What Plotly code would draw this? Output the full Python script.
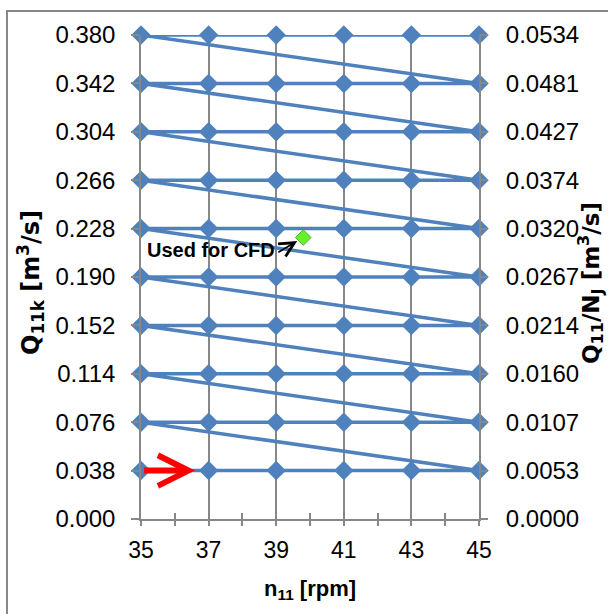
import plotly.graph_objects as go

# ---- data ----
n11_values = [35, 37, 39, 41, 43, 45]
q11_values = [0.038, 0.076, 0.114, 0.152, 0.190, 0.228, 0.266, 0.304, 0.342, 0.380]
left_tick_vals = [0.000, 0.038, 0.076, 0.114, 0.152, 0.190, 0.228, 0.266, 0.304, 0.342, 0.380]
left_tick_text = ["0.000", "0.038", "0.076", "0.114", "0.152", "0.190", "0.228", "0.266", "0.304", "0.342", "0.380"]
right_tick_text = ["0.0000", "0.0053", "0.0107", "0.0160", "0.0214", "0.0267", "0.0320", "0.0374", "0.0427", "0.0481", "0.0534"]
x_tick_vals = [35, 37, 39, 41, 43, 45]
cfd_n11 = [39.8]
cfd_q11 = [0.221]

# zigzag path through the grid: each row left->right, then jump to next row start
path_x, path_y = [], []
for q in q11_values:
    for n in n11_values:
        path_x.append(n)
        path_y.append(q)

BLUE = "#4F81BD"
GRAY = "#878787"
FONT = "Liberation Sans"
TITLE_FONT = "DejaVu Sans"

fig = go.Figure()
fig.add_trace(go.Scatter(
    x=path_x, y=path_y, mode="lines+markers", cliponaxis=False,
    line=dict(color=BLUE, width=3.5),
    marker=dict(symbol="diamond", size=15, color=BLUE),
    hoverinfo="skip", showlegend=False,
))
fig.add_trace(go.Scatter(
    x=cfd_n11, y=cfd_q11, mode="markers", xaxis="x2", cliponaxis=False,
    marker=dict(symbol="diamond", size=12, color="#66F22A",
                line=dict(color="#4DAF2A", width=1)),
    hoverinfo="skip", showlegend=False,
))
# invisible trace for right axis
fig.add_trace(go.Scatter(
    x=cfd_n11, y=cfd_q11, yaxis="y2", mode="markers",
    marker=dict(opacity=0), hoverinfo="skip", showlegend=False,
))

W, H = 608, 614
L, T = 141, 35
pw, ph = 338, 484
R, B = W - L - pw, H - T - ph

fig.update_layout(
    width=W, height=H,
    margin=dict(l=L, r=R, t=T, b=B, autoexpand=False),
    paper_bgcolor="white", plot_bgcolor="white",
    font=dict(family=FONT, size=24, color="black"),
    showlegend=False,
    xaxis=dict(
        range=[35, 45], tickvals=x_tick_vals, ticktext=[str(v) for v in x_tick_vals],
        showgrid=True, gridcolor=GRAY, gridwidth=1.5,
        showline=True, linecolor=GRAY, linewidth=1.5,
        ticks="outside", ticklen=5, tickcolor=GRAY, tickwidth=1.5,
        minor=dict(ticks="outside", ticklen=5, tickcolor=GRAY, tickwidth=1.5, dtick=1, tick0=35, showgrid=False),
        tickfont=dict(size=23), ticklabelstandoff=5, automargin=False,
        title=dict(text="<b>n<sub>11</sub> [rpm]</b>", font=dict(size=22), standoff=18),
        zeroline=False, fixedrange=True,
    ),
    xaxis2=dict(
        range=[35, 45], overlaying="x", matches="x", side="bottom", anchor="y",
        tickvals=x_tick_vals, showticklabels=False, showgrid=False,
        ticks="inside", ticklen=6, tickcolor=GRAY, tickwidth=1.5,
        minor=dict(ticks="inside", ticklen=6, tickcolor=GRAY, tickwidth=1.5, dtick=1, tick0=35, showgrid=False),
        zeroline=False, showline=False, automargin=False,
    ),
    yaxis=dict(
        range=[0, 0.38], tickvals=left_tick_vals, ticktext=left_tick_text,
        showgrid=False, zeroline=False,
        showline=True, linecolor=GRAY, linewidth=1.5, mirror=True,
        ticks="outside", ticklen=8, tickcolor=GRAY, tickwidth=1.5,
        tickfont=dict(size=24), ticklabelstandoff=11, automargin=False,
        fixedrange=True,
    ),
    yaxis2=dict(
        range=[0, 0.38], overlaying="y", side="right", anchor="x",
        tickvals=left_tick_vals, ticktext=right_tick_text,
        showgrid=False, zeroline=False, showline=False,
        ticks="outside", ticklen=8, tickcolor=GRAY, tickwidth=1.5,
        tickfont=dict(size=24), ticklabelstandoff=13, automargin=False,
        fixedrange=True,
    ),
)

# y-axis titles (placed as rotated annotations)
fig.add_annotation(xref="paper", yref="paper", x=(30 - L) / pw, y=(T + ph - 283) / ph,
                   text="<b>Q<sub>11k</sub> [m<sup>3</sup>/s]</b>", textangle=-90,
                   showarrow=False, xanchor="center", yanchor="middle",
                   font=dict(family=TITLE_FONT, size=24, color="black"))
fig.add_annotation(xref="paper", yref="paper", x=(590 - L) / pw, y=(T + ph - 283) / ph,
                   text="<b>Q<sub>11</sub>/N<sub>J</sub> [m<sup>3</sup>/s]</b>", textangle=-90,
                   showarrow=False, xanchor="center", yanchor="middle",
                   font=dict(family=TITLE_FONT, size=23, color="black"))

# outer chart border
fig.add_shape(type="rect", xref="paper", yref="paper",
              x0=(7 - L) / pw, x1=(W + 20 - L) / pw,
              y0=-(H + 20 - (T + ph)) / ph, y1=(T + ph - 11) / ph,
              line=dict(color=GRAY, width=2), fillcolor="rgba(0,0,0,0)", layer="below")

# "Used for CFD" label + arrow
fig.add_annotation(x=37.07, y=0.2112, xref="x", yref="y", text="<b>Used for CFD</b>",
                   showarrow=False, font=dict(size=20, color="black"))
fig.add_annotation(x=cfd_n11[0], y=cfd_q11[0], xref="x", yref="y",
                   ax=39.02, ay=0.2088, axref="x", ayref="y", text="",
                   showarrow=True, arrowhead=5, arrowsize=1.6, arrowwidth=1.8,
                   arrowcolor="black", standoff=7)

# red start arrow
fig.add_annotation(x=36.6, y=q11_values[0], xref="x", yref="y",
                   ax=35.05, ay=q11_values[0], axref="x", ayref="y", text="",
                   showarrow=True, arrowhead=5, arrowsize=1.0, arrowwidth=6,
                   arrowcolor="#FF0000")

fig.write_html("out.html", config={"displayModeBar": False},
               post_script="document.body.style.margin='0';document.body.style.overflow='hidden';")
